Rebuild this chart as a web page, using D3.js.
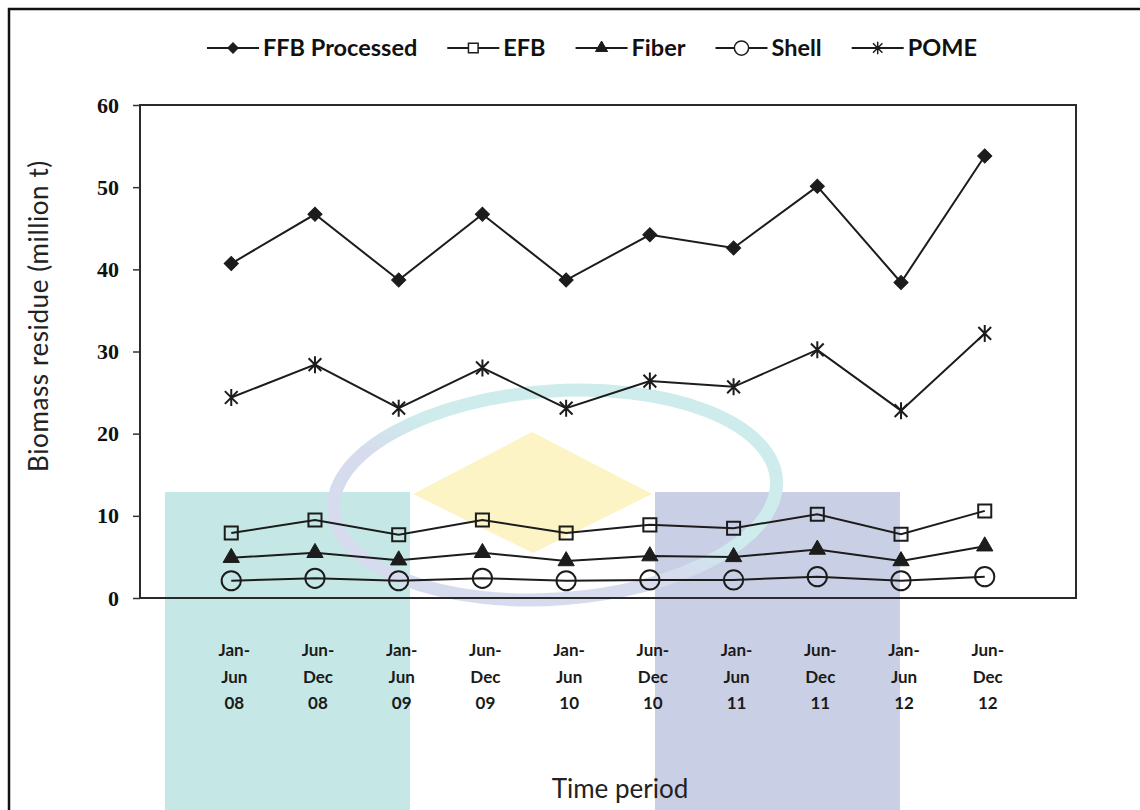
<!DOCTYPE html>
<html>
<head>
<meta charset="utf-8">
<script src="https://cdn.jsdelivr.net/npm/d3@7"></script>
<style>
  body { margin: 0; background: #fff; }
  svg { display: block; }
</style>
</head>
<body>
<svg width="1140" height="810"></svg>
<script>
// values (million t)
var periods = ["Jan-Jun 08", "Jun-Dec 08", "Jan-Jun 09", "Jun-Dec 09", "Jan-Jun 10",
               "Jun-Dec 10", "Jan-Jun 11", "Jun-Dec 11", "Jan-Jun 12", "Jun-Dec 12"];
var ffb   = [40.7, 46.7, 38.7, 46.7, 38.7, 44.2, 42.6, 50.1, 38.4, 53.8];
var efb   = [7.9, 9.5, 7.7, 9.5, 7.9, 8.9, 8.5, 10.2, 7.75, 10.6];
var fiber = [4.9, 5.5, 4.6, 5.5, 4.5, 5.1, 5.0, 5.9, 4.5, 6.3];
var shell = [2.1, 2.4, 2.1, 2.4, 2.1, 2.2, 2.2, 2.6, 2.1, 2.6];
var pome  = [24.4, 28.4, 23.1, 28.0, 23.1, 26.4, 25.7, 30.2, 22.8, 32.2];
var seriesNames = ["FFB Processed", "EFB", "Fiber", "Shell", "POME"];
var yTicks = [0, 10, 20, 30, 40, 50, 60];

var svg = d3.select("svg"),
    margin = {top: 105, right: 64, bottom: 212, left: 140},
    width = +svg.attr("width") - margin.left - margin.right,
    height = +svg.attr("height") - margin.top - margin.bottom;

var ink = "#1c1c1c";

// excel style star marker: vertical bar plus an X
var symbolStar = {
  draw: function(context, size) {
    var r = Math.sqrt(size) / 2;
    context.moveTo(0, -r); context.lineTo(0, r);
    context.moveTo(-r * 0.75, -r * 0.75); context.lineTo(r * 0.75, r * 0.75);
    context.moveTo(-r * 0.75, r * 0.75); context.lineTo(r * 0.75, -r * 0.75);
  }
};

var markers = {
  "FFB Processed": {type: d3.symbolSquare, size: 100, rotate: 45, fill: ink},
  "EFB":   {type: d3.symbolSquare, size: 170, rotate: 0, fill: "none"},
  "Fiber": {type: d3.symbolTriangle, size: 115, rotate: 0, fill: ink},
  "Shell": {type: d3.symbolCircle, size: 290, rotate: 0, fill: "none"},
  "POME":  {type: symbolStar, size: 290, rotate: 0, fill: "none"}
};

var series = [ffb, efb, fiber, shell, pome].map(function(v, i) {
  return {name: seriesNames[i], values: v};
});

// watermark left over from the scanned page
var wm = svg.append("g").attr("class", "watermark");
var grad = svg.append("defs").append("linearGradient")
    .attr("id", "ring").attr("x1", 0).attr("y1", 1).attr("x2", 1).attr("y2", 0);
grad.append("stop").attr("offset", "42%").attr("stop-color", "#d6dbee");
grad.append("stop").attr("offset", "56%").attr("stop-color", "#cdeceb");
wm.append("rect").attr("x", 165).attr("y", 492).attr("width", 245).attr("height", 330)
    .attr("fill", "#c5e8e6");
wm.append("rect").attr("x", 655).attr("y", 492).attr("width", 245).attr("height", 330)
    .attr("fill", "#c9d0e5");
wm.append("path").attr("d", "M532,432 L652,494 L533,553 L413,494 Z")
    .attr("fill", "#fcf4c4");
wm.append("ellipse").attr("cx", 555).attr("cy", 495).attr("rx", 222).attr("ry", 104)
    .attr("fill", "none").attr("stroke", "url(#ring)").attr("stroke-width", 13)
    .attr("transform", "rotate(-4 555 495)");

// page frame
svg.append("path")
    .attr("d", "M9,812 V9 H1142")
    .attr("fill", "none").attr("stroke", "#111").attr("stroke-width", 2.5);

var x = d3.scalePoint().domain(periods).range([0, width]).padding(1.09),
    y = d3.scaleLinear().domain([0, 60]).range([height, 0]);

var g = svg.append("g")
    .attr("transform", "translate(" + margin.left + "," + margin.top + ")");

g.append("rect")
    .attr("width", width).attr("height", height)
    .attr("fill", "none").attr("stroke", "#2a2a2a").attr("stroke-width", 2);

var yAxis = g.append("g")
    .call(d3.axisLeft(y).tickValues(yTicks).tickSize(7).tickPadding(14));
yAxis.select(".domain").remove();
yAxis.selectAll("line").attr("stroke", "#333").attr("stroke-width", 1.5);
yAxis.selectAll("text")
    .style("font", "bold 22px 'Liberation Serif', serif")
    .attr("fill", "#111");

// category labels, three lines each
var xl = g.append("g").selectAll("text")
    .data(periods)
  .enter().append("text")
    .attr("x", function(d) { return x(d) + 3; })
    .attr("y", height + 58)
    .attr("text-anchor", "middle")
    .style("font", "bold 17px Lato, sans-serif")
    .attr("fill", "#1a1a1a");
xl.each(function(d) {
  var parts = d.split(" "), first = parts[0].split("-");
  var lines = [first[0] + "-", first[1], parts[1]];
  var t = d3.select(this);
  lines.forEach(function(s, i) {
    t.append("tspan").attr("x", x(d) + 3).attr("dy", i ? 26.5 : 0).text(s);
  });
});

var line = d3.line()
    .x(function(d, i) { return x(periods[i]); })
    .y(function(d) { return y(d); });

var layer = g.selectAll(".series")
    .data(series)
  .enter().append("g")
    .attr("class", "series");

layer.append("path")
    .attr("d", function(d) { return line(d.values); })
    .attr("fill", "none")
    .attr("stroke", ink)
    .attr("stroke-width", 2);

layer.each(function(s) {
  var m = markers[s.name];
  d3.select(this).selectAll(".pt")
      .data(s.values)
    .enter().append("path")
      .attr("class", "pt")
      .attr("d", d3.symbol().type(m.type).size(m.size))
      .attr("transform", function(d, i) {
        return "translate(" + x(periods[i]) + "," + y(d) + ") rotate(" + m.rotate + ")";
      })
      .attr("fill", m.fill === "none" ? "none" : m.fill)
      .attr("stroke", ink)
      .attr("stroke-width", m.fill === "none" ? 2 : 1);
});

// axis titles
svg.append("text")
    .attr("transform", "translate(48,316) rotate(-90)")
    .attr("text-anchor", "middle")
    .style("font", "26px Lato, sans-serif")
    .style("letter-spacing", "0.6px")
    .attr("fill", "#222")
    .text("Biomass residue (million t)");

svg.append("text")
    .attr("x", 620).attr("y", 798)
    .attr("text-anchor", "middle")
    .style("font", "26px Lato, sans-serif")
    .attr("fill", "#222")
    .text("Time period");

// legend
var lx = 207, ly = 48;
series.forEach(function(s) {
  var m = markers[s.name];
  var item = svg.append("g").attr("transform", "translate(" + lx + "," + ly + ")");
  item.append("line").attr("x1", 0).attr("x2", 52)
      .attr("stroke", ink).attr("stroke-width", 2);
  item.append("path")
      .attr("d", d3.symbol().type(m.type).size(m.size * 0.55))
      .attr("transform", "translate(26,0) rotate(" + m.rotate + ")")
      .attr("fill", m.fill === "none" ? "#fff" : m.fill)
      .attr("stroke", ink)
      .attr("stroke-width", m.fill === "none" ? 1.5 : 1);
  var t = item.append("text")
      .attr("x", 56).attr("dy", "0.35em")
      .style("font", "bold 23.5px Lato, sans-serif")
      .attr("fill", "#111")
      .text(s.name);
  lx += 56 + t.node().getComputedTextLength() + 30;
});
</script>
</body>
</html>
